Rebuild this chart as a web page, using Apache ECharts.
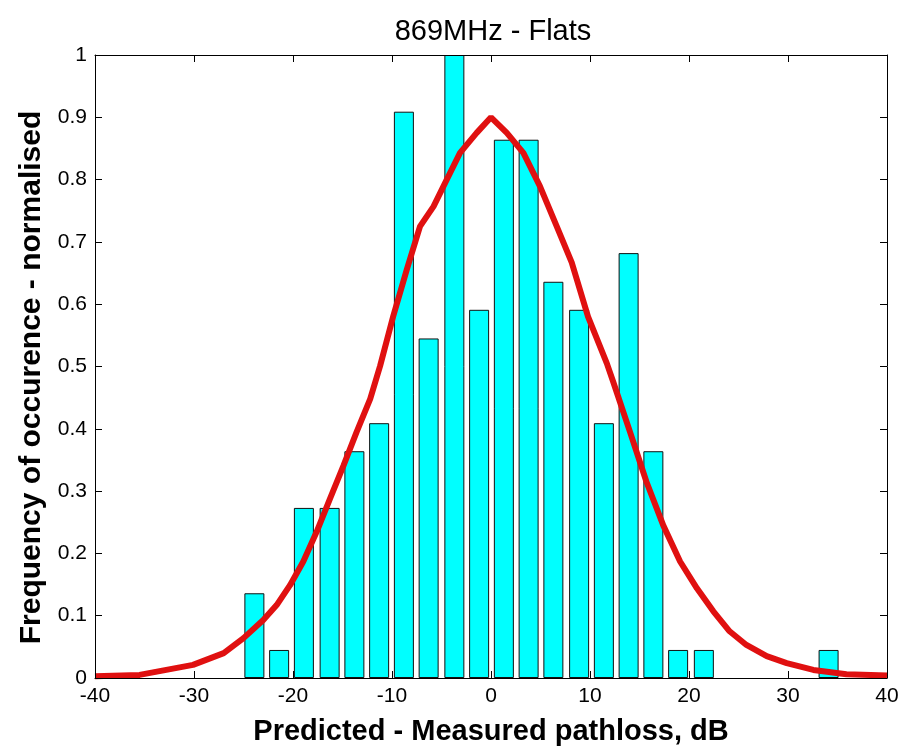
<!DOCTYPE html>
<html>
<head>
<meta charset="utf-8">
<script src="https://cdn.jsdelivr.net/npm/echarts@6/dist/echarts.min.js"></script>
<style>html,body{margin:0;padding:0;background:#fff;}#c{width:904px;height:751px;}</style>
</head>
<body>
<div id="c"></div>
<script>
// Histogram bins (centres, dB) and normalised frequency
var binCenters = [-23.9, -21.4, -18.9, -16.3, -13.8, -11.3, -8.8, -6.3, -3.7, -1.2, 1.3, 3.8, 6.3, 8.9, 11.4, 13.9, 16.4, 18.9, 21.5, 34.1];
var binFreq = [0.136, 0.045, 0.273, 0.273, 0.364, 0.409, 0.909, 0.545, 1.0, 0.591, 0.864, 0.864, 0.636, 0.591, 0.409, 0.682, 0.364, 0.045, 0.045, 0.045];
// Fitted curve
var curveX = [-40, -35.5, -30.1, -27.0, -25.0, -23.0, -21.65, -20.3, -18.96, -17.6, -16.26, -14.9, -13.57, -12.2, -11.2, -9.87, -8.5, -7.17, -5.8, -4.47, -3.13, -1.45, 0, 1.6, 3.27, 4.95, 6.64, 8.15, 9.8, 11.7, 12.35, 14.04, 15.7, 17.4, 19.1, 20.8, 22.46, 24.1, 25.8, 27.85, 29.87, 32.56, 35.9, 40];
var curveY = [0.003, 0.005, 0.021, 0.040, 0.064, 0.093, 0.117, 0.149, 0.187, 0.235, 0.288, 0.341, 0.395, 0.448, 0.501, 0.581, 0.656, 0.725, 0.757, 0.800, 0.843, 0.875, 0.900, 0.875, 0.843, 0.789, 0.725, 0.667, 0.580, 0.505, 0.475, 0.395, 0.315, 0.245, 0.187, 0.144, 0.107, 0.075, 0.053, 0.035, 0.024, 0.013, 0.006, 0.004];
var xTicks = [-40, -30, -20, -10, 0, 10, 20, 30, 40];
var yTicks = [0, 0.1, 0.2, 0.3, 0.4, 0.5, 0.6, 0.7, 0.8, 0.9, 1];

var FONT = 'Liberation Sans, Arial, Helvetica, sans-serif';
var chart = echarts.init(document.getElementById('c'), null, {renderer: 'canvas'});
var barData = binCenters.map(function (x, i) { return [x, binFreq[i]]; });
var lineData = curveX.map(function (x, i) { return [x, curveY[i]]; });

function fmtY(v) {
  var r = Math.round(v * 10) / 10;
  return yTicks.indexOf(r) >= 0 ? String(r) : '';
}
var common = {
  axisLine: {show: true, onZero: false, lineStyle: {color: '#000', width: 1}},
  axisTick: {show: true, inside: true, length: 7, lineStyle: {color: '#000', width: 1}},
  splitLine: {show: false},
  z: 10
};
var option = {
  backgroundColor: '#fff',
  animation: false,
  title: {
    text: '869MHz - Flats',
    left: 488, top: 12, textAlign: 'center',
    textStyle: {fontFamily: FONT, fontSize: 29, fontWeight: 'normal', color: '#000'}
  },
  grid: {left: 95, right: 17, top: 55, bottom: 71, containLabel: false},
  xAxis: [
    Object.assign({}, common, {
      type: 'value', position: 'bottom', min: -40, max: 40, interval: 10,
      name: 'Predicted - Measured pathloss, dB', nameLocation: 'middle', nameGap: 39,
      nameTextStyle: {fontFamily: FONT, fontSize: 29, fontWeight: 'bold', color: '#000'},
      axisLabel: {show: true, margin: 8, fontFamily: FONT, fontSize: 21, color: '#000',
        formatter: function (v) { return xTicks.indexOf(v) >= 0 ? String(v) : ''; }}
    }),
    Object.assign({}, common, {
      type: 'value', position: 'top', min: -40, max: 40, interval: 10,
      axisLabel: {show: false}
    })
  ],
  yAxis: [
    Object.assign({}, common, {
      type: 'value', position: 'left', min: 0, max: 1, interval: 0.1,
      name: 'Frequency of occurence - normalised', nameLocation: 'middle', nameGap: 43,
      nameTextStyle: {fontFamily: FONT, fontSize: 30, fontWeight: 'bold', color: '#000', padding: [0, 22, 0, 0]},
      axisLabel: {show: true, margin: 8, fontFamily: FONT, fontSize: 21, color: '#000', formatter: fmtY}
    }),
    Object.assign({}, common, {
      type: 'value', position: 'right', min: 0, max: 1, interval: 0.1,
      axisLabel: {show: false}
    })
  ],
  series: [
    {
      type: 'bar', xAxisIndex: 0, yAxisIndex: 0,
      data: barData, barWidth: 20,
      itemStyle: {color: '#00ffff', borderColor: '#111', borderWidth: 1},
      z: 2
    },
    {
      type: 'line', xAxisIndex: 0, yAxisIndex: 0,
      data: lineData, smooth: false, showSymbol: false, symbol: 'none',
      lineStyle: {color: '#e01010', width: 6},
      z: 5
    }
  ]
};
chart.setOption(option);
</script>
</body>
</html>
